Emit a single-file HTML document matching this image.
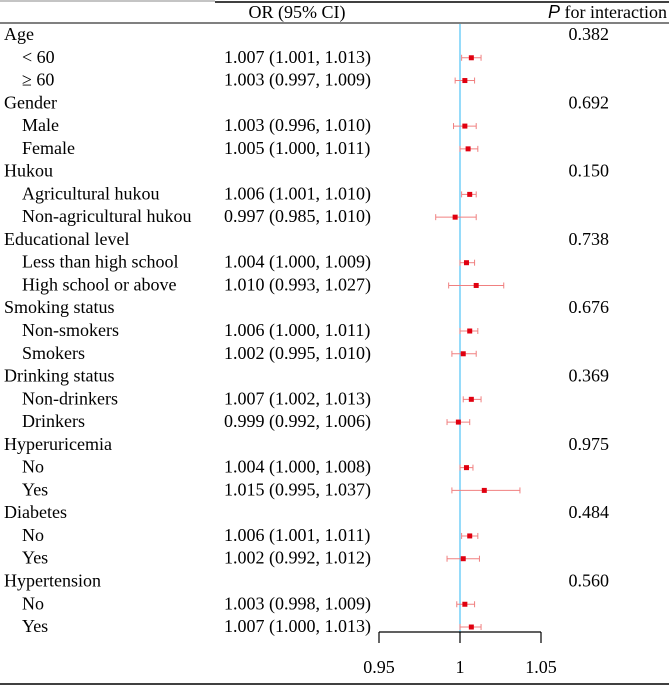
<!DOCTYPE html>
<html><head><meta charset="utf-8"><style>
body{margin:0;background:#fff;}
svg{display:block;font-family:"Liberation Serif",serif;}
</style></head><body>
<svg id="c" width="669" height="685"></svg>
<script>
const labels=["Age","< 60","≥ 60","Gender","Male","Female","Hukou","Agricultural hukou","Non-agricultural hukou","Educational level","Less than high school","High school or above","Smoking status","Non-smokers","Smokers","Drinking status","Non-drinkers","Drinkers","Hyperuricemia","No","Yes","Diabetes","No","Yes","Hypertension","No","Yes"];
const orVals=[null,1.007,1.003,null,1.003,1.005,null,1.006,0.997,null,1.004,1.010,null,1.006,1.002,null,1.007,0.999,null,1.004,1.015,null,1.006,1.002,null,1.003,1.007];
const loVals=[null,1.001,0.997,null,0.996,1.000,null,1.001,0.985,null,1.000,0.993,null,1.000,0.995,null,1.002,0.992,null,1.000,0.995,null,1.001,0.992,null,0.998,1.000];
const hiVals=[null,1.013,1.009,null,1.010,1.011,null,1.010,1.010,null,1.009,1.027,null,1.011,1.010,null,1.013,1.006,null,1.008,1.037,null,1.011,1.012,null,1.009,1.013];
const pVals=["0.382",null,null,"0.692",null,null,"0.150",null,null,"0.738",null,null,"0.676",null,null,"0.369",null,null,"0.975",null,null,"0.484",null,null,"0.560",null,null];
const ticks=[0.95,1,1.05];
const tickLabels=["0.95","1","1.05"];
const svg=document.getElementById('c');
const NS='http://www.w3.org/2000/svg';
const FS=18;
const x=v=>460+(v-1)*1620;
const y=i=>34+i*22.77;
function mk(t,a,txt){const e=document.createElementNS(NS,t);for(const k in a)e.setAttribute(k,a[k]);if(txt!=null)e.textContent=txt;svg.appendChild(e);return e;}
let e;
e=mk('line',{x1:0,y1:1,x2:215,y2:1,stroke:'#888','stroke-width':1});


e=mk('line',{x1:215,y1:2,x2:669,y2:2,stroke:'#000','stroke-width':1.5});


e=mk('line',{x1:0,y1:23,x2:669,y2:23,stroke:'#000','stroke-width':1});


e=mk('line',{x1:0,y1:684,x2:669,y2:684,stroke:'#000','stroke-width':1.5});


e=mk('text',{x:297,y:18,'font-size':FS,'text-anchor':'middle'},'OR (95% CI)');


e=mk('text',{x:667,y:18,'font-size':FS,'text-anchor':'end'});
e.innerHTML='<tspan font-family="Liberation Sans,sans-serif" font-style="italic">P</tspan> for interaction';


e=mk('line',{x1:x(1),y1:24,x2:x(1),y2:632,stroke:'#4fc3f7','stroke-width':1.2});


labels.forEach((l,i)=>{
  const sub=orVals[i]!=null;
  e=mk('text',{x:sub?22:4,y:y(i)+6,'font-size':FS},l);
  
  
  if(pVals[i]){e=mk('text',{x:609,y:y(i)+6,'font-size':FS,'text-anchor':'end'},pVals[i]);
    
    }
  if(sub){
    e=mk('text',{x:224,y:y(i)+6,'font-size':FS},orVals[i].toFixed(3)+' ('+loVals[i].toFixed(3)+', '+hiVals[i].toFixed(3)+')');
    
    
    const yy=y(i)+1;
    e=mk('line',{x1:x(loVals[i]),y1:yy,x2:x(hiVals[i]),y2:yy,stroke:'#f08080','stroke-width':1});
    
    
    [loVals[i],hiVals[i]].forEach(v=>{e=mk('line',{x1:x(v),y1:yy-3,x2:x(v),y2:yy+3,stroke:'#f08080','stroke-width':1});
      
      });
    e=mk('rect',{x:x(orVals[i])-2.5,y:yy-2.5,width:5,height:5,fill:'#e00010'});
    
    
  }
});
e=mk('line',{x1:x(0.95),y1:632,x2:x(1.05),y2:632,stroke:'#000','stroke-width':1.2});


ticks.forEach((t,i)=>{
  e=mk('line',{x1:x(t),y1:632,x2:x(t),y2:643,stroke:'#000','stroke-width':1.2});
  
  
  e=mk('text',{x:x(t),y:673,'font-size':FS,'text-anchor':'middle'},tickLabels[i]);
  
  
});
</script>
</body></html>
